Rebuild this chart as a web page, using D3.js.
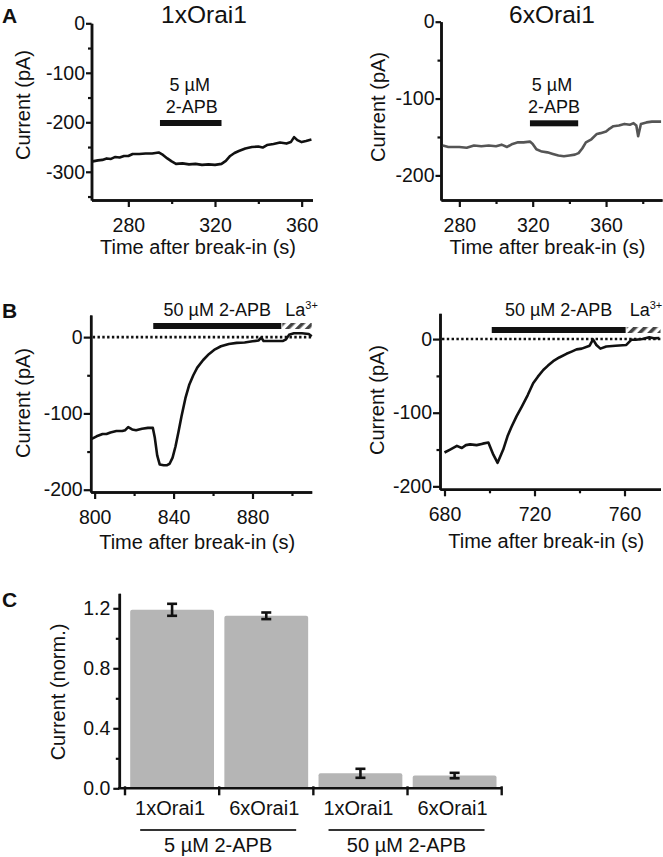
<!DOCTYPE html>
<html><head><meta charset="utf-8">
<script src="https://cdn.jsdelivr.net/npm/d3@7"></script>
<style>
body{margin:0;background:#fff}
svg{display:block}
text{font-family:"Liberation Sans",Arial,Helvetica,sans-serif}
</style></head><body>
<svg id="chart" width="663" height="857"></svg>
<script>
// ---------- DATA ----------
const panelTitles = ["1xOrai1", "6xOrai1"];
const axisLabelTime = "Time after break-in (s)";
const axisLabelCurrent = "Current (pA)";
const axisLabelNorm = "Current (norm.)";

// Panel A, 1xOrai1 (5 µM 2-APB)
const a1Time = [263.5,266,268,270,272,274,276,278,280,282,285,288,291,294,296,298,300,302,305,308,311,314,317,320,323,325,327,329,331,334,337,340,342,344,347,350,353,355,356.5,358,360,362,364.5];
const a1Current = [-279,-277,-276,-273,-274,-270,-271,-268,-268,-264,-264,-263,-263,-261,-266,-273,-279,-284,-283,-285,-284,-286,-285,-286,-284,-278,-268,-262,-258,-253,-250,-249,-251,-246,-244,-241,-243,-240,-230,-236,-240,-238,-235];
const a1Drug = [294.6, 323];
// Panel A, 6xOrai1
const a2Time = [271,274,277,280,284,288,292,296,300,303,306,309,312,315,318.5,320,322,325,328,331,334,337,340,343,345,347,349,352,355,357,360,362,364,367,370,373,375,376.5,377.5,379,382,385,388,390];
const a2Current = [-161,-163,-163,-163,-164,-161,-162,-161,-162,-160,-163,-159,-157,-157,-156,-159,-166,-169,-170,-172,-174,-175,-174,-173,-171,-165,-157,-153,-146,-145,-143,-139,-136,-135,-133,-134,-132,-135,-149,-133,-131,-130,-130,-130];
const a2Drug = [318.5, 344.8];

// Panel B, 1xOrai1 (50 µM 2-APB then La3+)
const b1Time = [798,801,804,806,808,811,814,815.5,817,819,821,824,827,829.5,830.5,831.7,833,835,836.5,838,839.5,841,842.5,844,846,848,850,852,855,858,861,864,868,872,876,880,883,884.4,885.6,890,895.5,897,898.5,901,905,908.5,910];
const b1Current = [-134,-130,-127,-127,-125,-123,-123,-122,-118,-121,-122,-120,-119,-119,-132,-155,-167,-168,-168,-166,-158,-143,-124,-104,-80,-62,-50,-40,-30,-22,-16,-12,-9,-7.5,-7,-5.5,-4.5,-0.5,-5,-5,-5,-3,3,5,5,4,1];
const b1Drug = [829.7, 894.6];
const b1La = [894.6, 910];
// Panel B, 6xOrai1
const b2Time = [680,682.5,685.5,687.7,689.5,691.4,694.3,697,699.5,701.7,703.6,706.1,708,709.8,712,714.3,717,719.4,721.5,723.9,726,728.3,731,734.2,736.5,738.7,741,744.5,746,747.5,749.3,751.9,756,760.8,763,765,768,771,773,775.5];
const b2Current = [-154,-150,-145,-148,-144,-143,-144,-142,-140.5,-157,-168,-150,-132,-119,-105,-92,-76,-60,-51,-42,-36,-30,-25,-20,-17,-14,-13,-9,-0.5,-8,-13,-10,-9,-8,-1,-1,0,2.5,1,1.5];
const b2Drug = [701, 760.5];
const b2La = [760.5, 776];

// Panel C
const barCategories = ["1xOrai1", "6xOrai1", "1xOrai1", "6xOrai1"];
const barValues = [1.19, 1.15, 0.10, 0.085];
const barErrors = [0.04, 0.022, 0.03, 0.018];
const groupLabels = ["5 µM 2-APB", "50 µM 2-APB"];
const cTicksMajor = [0, 0.4, 0.8, 1.2];
const cTicksMinor = [0.2, 0.6, 1.0];

// ---------- DRAWING ----------
const svg = d3.select("#chart");
const INK = "#111";
const FONT = 20;
const TICKFONT = 19.5;

const defs = svg.append("defs");
const pat = defs.append("pattern").attr("id", "hatch").attr("patternUnits", "userSpaceOnUse")
  .attr("width", 7).attr("height", 7).attr("patternTransform", "rotate(45)");
pat.append("rect").attr("width", 7).attr("height", 7).attr("fill", "#fff");
pat.append("rect").attr("width", 3.5).attr("height", 7).attr("fill", "#444");

function styleAxis(g, fontSize) {
  g.attr("font-family", '"Liberation Sans",Arial,sans-serif').attr("font-size", fontSize);
  g.selectAll(".domain").attr("stroke", INK).attr("stroke-width", 2.5);
  g.selectAll(".tick line").attr("stroke", INK).attr("stroke-width", 2.2);
  g.selectAll(".tick text").attr("fill", INK);
}

function tracePanel(o) {
  const x = d3.scaleLinear().domain(o.xDomain).range(o.xRange);
  const y = d3.scaleLinear().domain(o.yDomain).range(o.yRange);
  const g = svg.append("g");
  const xAxisY = o.yRange[0], yAxisX = o.xRange[0];

  // minor ticks
  g.append("g").attr("transform", `translate(0,${xAxisY})`)
    .call(d3.axisBottom(x).tickValues(o.xMinor).tickSize(4).tickSizeOuter(0).tickFormat(""))
    .call(s => styleAxis(s, TICKFONT));
  g.append("g").attr("transform", `translate(${yAxisX},0)`)
    .call(d3.axisLeft(y).tickValues(o.yMinor).tickSize(3.5).tickSizeOuter(0).tickFormat(""))
    .call(s => styleAxis(s, TICKFONT));
  // major ticks
  g.append("g").attr("transform", `translate(0,${xAxisY})`)
    .call(d3.axisBottom(x).tickValues(o.xMajor).tickSize(7).tickSizeOuter(0).tickPadding(o.xPad).tickFormat(d => String(d)))
    .call(s => styleAxis(s, TICKFONT));
  g.append("g").attr("transform", `translate(${yAxisX},0)`)
    .call(d3.axisLeft(y).tickValues(o.yMajor).tickSize(o.yTick).tickSizeOuter(0).tickPadding(1).tickFormat(d => String(d)))
    .call(s => styleAxis(s, TICKFONT));

  // zero dotted line
  if (o.dotted) {
    g.append("line").attr("x1", yAxisX + 2).attr("x2", o.xRange[1]).attr("y1", y(0)).attr("y2", y(0))
      .attr("stroke", INK).attr("stroke-width", 2.6).attr("stroke-dasharray", "2.4 2.4");
  }

  // trace
  const pts = o.time.map((t, i) => [t, o.current[i]]);
  g.append("path").datum(pts)
    .attr("d", d3.line().x(d => x(d[0])).y(d => y(d[1])))
    .attr("fill", "none").attr("stroke", o.color).attr("stroke-width", 2.6)
    .attr("stroke-linejoin", "round");

  // drug bar
  g.append("rect").attr("x", x(o.drug[0])).attr("width", x(o.drug[1]) - x(o.drug[0]))
    .attr("y", o.barY - 3).attr("height", 6).attr("fill", INK);
  if (o.la) {
    g.append("rect").attr("x", x(o.la[0]) + 1).attr("width", x(o.la[1]) - x(o.la[0]) - 1)
      .attr("y", o.barY - 3).attr("height", 6).attr("fill", "url(#hatch)");
    const t = g.append("text").attr("x", x(o.la[0]) + 4).attr("y", o.labelY)
      .attr("font-size", 18).attr("fill", INK);
    t.append("tspan").text("La");
    t.append("tspan").attr("font-size", 11).attr("dy", -7).text("3+");
  }
  // drug label
  o.drugLabel.forEach((s, i) => {
    g.append("text").attr("x", (x(o.drug[0]) + x(o.drug[1])) / 2 + (o.labelShift || 0) + (i === 1 ? 2 : 0))
      .attr("y", o.labelY + i * 22 - (o.drugLabel.length - 1) * 22)
      .attr("text-anchor", "middle").attr("font-size", 18).attr("fill", INK).text(s);
  });

  // axis titles
  g.append("text").attr("x", (o.xRange[0] + o.xRange[1]) / 2 - 4).attr("y", xAxisY + o.xLabelDy)
    .attr("text-anchor", "middle").attr("font-size", FONT).attr("fill", INK).text(axisLabelTime);
  g.append("text").attr("transform", `translate(${o.yLabelX},${o.yLabelY}) rotate(-90)`)
    .attr("text-anchor", "middle").attr("font-size", FONT).attr("fill", INK).text(axisLabelCurrent);
}

// Panel A
tracePanel({xDomain: [263, 365], xRange: [91.5, 312.5], yDomain: [-357, 0], yRange: [200, 23.3],
  xMajor: [280, 320, 360], xMinor: [300, 340], yMajor: [0, -100, -200, -300], yMinor: [-50, -150, -250, -350],
  yTick: 5.5, xPad: 11, time: a1Time, current: a1Current, color: INK,
  drug: a1Drug, barY: 123, drugLabel: ["5 µM", "2-APB"], labelY: 113, labelShift: -1,
  xLabelDy: 54, yLabelX: 30, yLabelY: 105});
tracePanel({xDomain: [270, 390.5], xRange: [441, 662], yDomain: [-232, 0], yRange: [200, 21.7],
  xMajor: [280, 320, 360], xMinor: [300, 340, 380], yMajor: [0, -100, -200], yMinor: [-50, -150],
  yTick: 5.5, xPad: 11, time: a2Time, current: a2Current, color: "#555",
  drug: a2Drug, barY: 123.3, drugLabel: ["5 µM", "2-APB"], labelY: 113, labelShift: -2,
  xLabelDy: 54, yLabelX: 385, yLabelY: 107});

// Panel B
tracePanel({xDomain: [798, 910], xRange: [90.7, 311.7], yDomain: [-203, 29], yRange: [492, 315],
  xMajor: [800, 840, 880], xMinor: [820, 860, 900], yMajor: [0, -100, -200], yMinor: [-50, -150],
  yTick: 7, xPad: 11, time: b1Time, current: b1Current, color: INK, dotted: true,
  drug: b1Drug, la: b1La, barY: 326, drugLabel: ["50 µM 2-APB"], labelY: 316,
  xLabelDy: 57, yLabelX: 30, yLabelY: 403});
tracePanel({xDomain: [678, 776], xRange: [440, 660.5], yDomain: [-204, 35], yRange: [489.3, 313.3],
  xMajor: [680, 720, 760], xMinor: [700, 740], yMajor: [0, -100, -200], yMinor: [-50, -150],
  yTick: 7, xPad: 11, time: b2Time, current: b2Current, color: INK, dotted: true,
  drug: b2Drug, la: b2La, barY: 330, drugLabel: ["50 µM 2-APB"], labelY: 316,
  xLabelDy: 59, yLabelX: 384, yLabelY: 400});

// Titles and panel letters
svg.append("text").attr("x", 204).attr("y", 23).attr("text-anchor", "middle").attr("font-size", 24.5).attr("fill", INK).text(panelTitles[0]);
svg.append("text").attr("x", 552).attr("y", 23).attr("text-anchor", "middle").attr("font-size", 24.5).attr("fill", INK).text(panelTitles[1]);
[["A", 23], ["B", 318], ["C", 607]].forEach(([l, yy]) => {
  svg.append("text").attr("x", 2).attr("y", yy).attr("font-size", 21).attr("font-weight", "bold").attr("fill", INK).text(l);
});

// Panel C
(function () {
  const idx = d3.range(barValues.length);
  const x = d3.scaleBand().domain(idx).range([125, 501.7]).paddingInner(0.11).paddingOuter(0.055);
  const y = d3.scaleLinear().domain([0, 1.3]).range([788.3, 593.3]);
  const g = svg.append("g");
  g.selectAll("rect.bar").data(idx).join("rect").attr("class", "bar")
    .attr("x", i => x(i)).attr("width", x.bandwidth())
    .attr("y", i => y(barValues[i])).attr("height", i => y(0) - y(barValues[i]))
    .attr("rx", 2).attr("fill", "#b5b5b5");
  // error bars
  idx.forEach(i => {
    const cx = x(i) + x.bandwidth() / 2;
    const lo = y(barValues[i] - barErrors[i]), hi = y(barValues[i] + barErrors[i]);
    g.append("line").attr("x1", cx).attr("x2", cx).attr("y1", lo).attr("y2", hi).attr("stroke", INK).attr("stroke-width", 2.6);
    [lo, hi].forEach(yy => g.append("line").attr("x1", cx - 5).attr("x2", cx + 5).attr("y1", yy).attr("y2", yy)
      .attr("stroke", INK).attr("stroke-width", 2.6));
  });
  // y axis
  g.append("g").attr("transform", "translate(119.3,0)")
    .call(d3.axisLeft(y).tickValues(cTicksMinor).tickSize(3.5).tickSizeOuter(0).tickFormat(""))
    .call(s => styleAxis(s, TICKFONT));
  g.append("g").attr("transform", "translate(119.3,0)")
    .call(d3.axisLeft(y).tickValues(cTicksMajor).tickSize(6).tickSizeOuter(0).tickPadding(3).tickFormat(d3.format(".1f")))
    .call(s => styleAxis(s, TICKFONT));
  // x axis with boundary ticks
  g.append("line").attr("x1", 118).attr("x2", 501.7).attr("y1", y(0)).attr("y2", y(0)).attr("stroke", INK).attr("stroke-width", 2.5);
  const bounds = idx.map(i => x(i) - x.step() * x.paddingInner() / 2).concat([501.7]);
  bounds.forEach(b => g.append("line").attr("x1", b).attr("x2", b).attr("y1", y(0) - 2).attr("y2", y(0) + 7)
    .attr("stroke", INK).attr("stroke-width", 2.4));
  idx.forEach(i => g.append("text").attr("x", x(i) + x.bandwidth() / 2 - 2).attr("y", 815)
    .attr("text-anchor", "middle").attr("font-size", FONT).attr("fill", INK).text(barCategories[i]));
  // group lines and labels
  [[0, 1], [2, 3]].forEach((pair, gi) => {
    const x1 = x(pair[0]) + 10, x2 = x(pair[1]) + x.bandwidth() - 12;
    g.append("line").attr("x1", x1).attr("x2", x2).attr("y1", 830).attr("y2", 830).attr("stroke", "#333").attr("stroke-width", 2);
    g.append("text").attr("x", (x1 + x2) / 2).attr("y", 852).attr("text-anchor", "middle")
      .attr("font-size", FONT).attr("fill", INK).text(groupLabels[gi]);
  });
  g.append("text").attr("transform", "translate(65,692) rotate(-90)").attr("text-anchor", "middle")
    .attr("font-size", FONT).attr("fill", INK).text(axisLabelNorm);
})();
</script>
</body></html>
